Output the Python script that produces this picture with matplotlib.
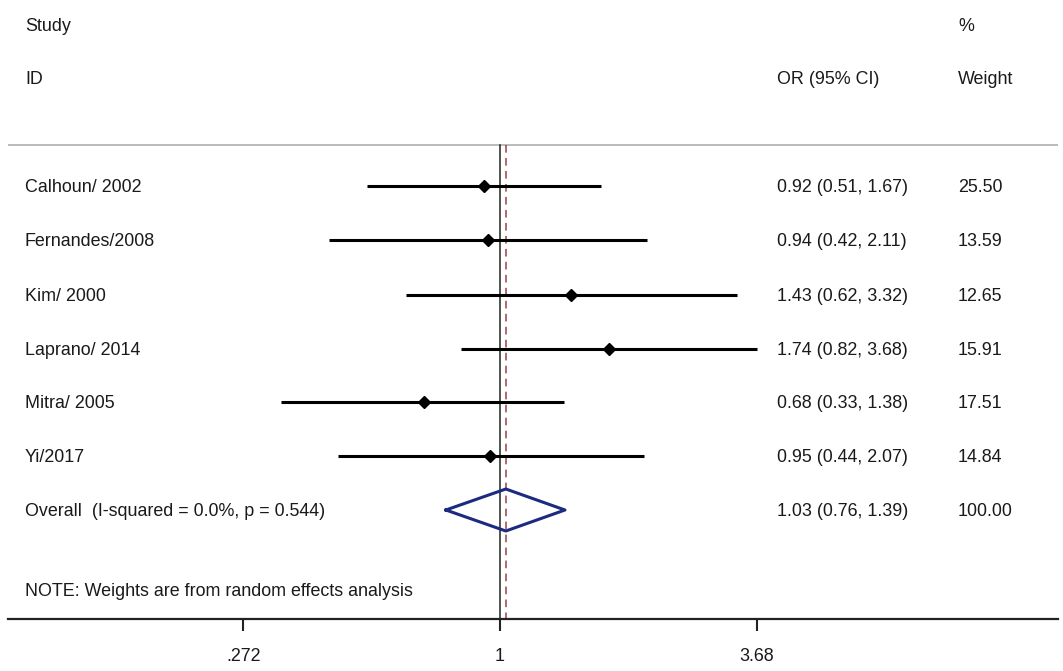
import numpy as np
from matplotlib import pyplot as plt
from matplotlib.transforms import blended_transform_factory

# study data
studies = ["Calhoun/ 2002", "Fernandes/2008", "Kim/ 2000", "Laprano/ 2014", "Mitra/ 2005", "Yi/2017"]
odds = [0.92, 0.94, 1.43, 1.74, 0.68, 0.95]
lower = [0.51, 0.42, 0.62, 0.82, 0.33, 0.44]
upper = [1.67, 2.11, 3.32, 3.68, 1.38, 2.07]
weights = ["25.50", "13.59", "12.65", "15.91", "17.51", "14.84"]

overall_label = "Overall  (I-squared = 0.0%, p = 0.544)"
overall_or, overall_lo, overall_hi = 1.03, 0.76, 1.39
overall_weight = "100.00"

tick_vals = [0.272, 1, 3.68]
tick_labels = [".272", "1", "3.68"]

W, H = 1063, 671
fig = plt.figure(figsize=(W / 100, H / 100), dpi=100)
plt.rcParams['font.family'] = ['Liberation Sans', 'DejaVu Sans']

x0, x1, y_axis = 8, 1058, 619
ax = fig.add_axes([x0 / W, (H - y_axis) / H, (x1 - x0) / W, y_axis / H])
ax.set_xscale("log")
# 1 sits at pixel 500, 3.68 at 757
ppu = 257 / np.log(3.68)
ax.set_xlim(np.exp((x0 - 500) / ppu), np.exp((x1 - 500) / ppu))
ax.set_ylim(y_axis, 0)

fs = 12.9
tc = "#1a1a1a"

for s in ["top", "left", "right"]:
    ax.spines[s].set_visible(False)
ax.spines["bottom"].set_linewidth(1.6)
ax.spines["bottom"].set_color("#222222")
ax.set_yticks([])
ax.set_xticks(tick_vals)
ax.set_xticklabels(tick_labels)
ax.xaxis.set_minor_locator(plt.NullLocator())
ax.tick_params(axis="x", direction="out", length=8.5, width=1.5, color="#222222",
               labelsize=fs, labelcolor=tc, pad=12.5)

row_y = [186, 240, 295, 349, 402, 456]
overall_y = 510
sep_y = 145

# separator under the header
ax.axhline(sep_y, color="#b5b5b5", lw=1.3)

# reference line and overall effect line
ax.plot([1, 1], [sep_y, y_axis], color="#222222", lw=1.1)
ax.plot([overall_or, overall_or], [sep_y, y_axis], color="#9c4048", lw=1.1,
        dashes=(5, 3.5))

for yy, o, lo, hi in zip(row_y, odds, lower, upper):
    ax.plot([lo, hi], [yy, yy], color="black", lw=2.2, solid_capstyle="butt")
    ax.plot(o, yy, marker="D", color="black", markersize=6.5)

dh = 21
ax.plot([overall_lo, overall_or, overall_hi, overall_or, overall_lo],
        [overall_y, overall_y - dh, overall_y, overall_y + dh, overall_y],
        color="#1c2a80", lw=2.2)

tr = blended_transform_factory(fig.transFigure, ax.transData)
col_study, col_or, col_w = 25 / W, 777 / W, 958 / W


def put(x, y, s):
    # text sits a touch lower than the bbox centre
    ax.text(x, y + 1.5, s, transform=tr, fontsize=fs, color=tc, va="center")


put(col_study, 25, "Study")
put(col_study, 78, "ID")
put(col_w, 25, "%")
put(col_or, 78, "OR (95% CI)")
put(col_w, 78, "Weight")

for yy, name, o, lo, hi, w in zip(row_y, studies, odds, lower, upper, weights):
    put(col_study, yy, name)
    put(col_or, yy, f"{o:.2f} ({lo:.2f}, {hi:.2f})")
    put(col_w, yy, w)

put(col_study, overall_y, overall_label)
put(col_or, overall_y, f"{overall_or:.2f} ({overall_lo:.2f}, {overall_hi:.2f})")
put(col_w, overall_y, overall_weight)

put(col_study, 590, "NOTE: Weights are from random effects analysis")

fig.savefig("out.png", dpi=100)
